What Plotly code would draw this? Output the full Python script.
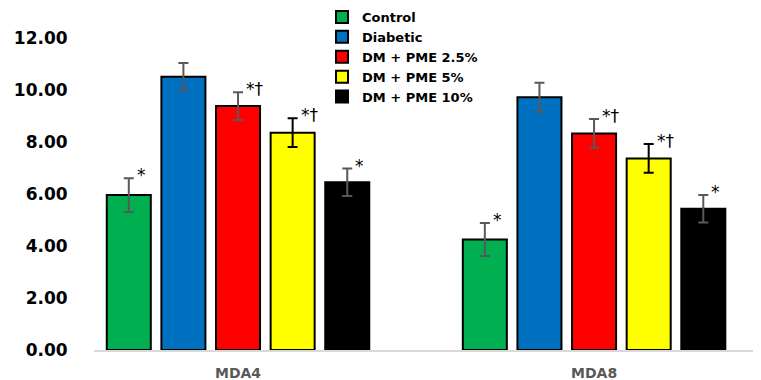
import plotly.graph_objects as go

categories = ["MDA4", "MDA8"]
series = ["Control", "Diabetic", "DM + PME 2.5%", "DM + PME 5%", "DM + PME 10%"]
values = {
    "Control": [5.96, 4.25],
    "Diabetic": [10.51, 9.72],
    "DM + PME 2.5%": [9.38, 8.33],
    "DM + PME 5%": [8.36, 7.37],
    "DM + PME 10%": [6.45, 5.43],
}
errors = {
    "Control": [0.65, 0.63],
    "Diabetic": [0.53, 0.56],
    "DM + PME 2.5%": [0.53, 0.55],
    "DM + PME 5%": [0.55, 0.55],
    "DM + PME 10%": [0.53, 0.53],
}
marks = {
    "Control": ["*", "*"],
    "Diabetic": ["", ""],
    "DM + PME 2.5%": ["*†", "*†"],
    "DM + PME 5%": ["*†", "*†"],
    "DM + PME 10%": ["*", "*"],
}
y_ticks = [0, 2, 4, 6, 8, 10, 12]

colors = ["#00B050", "#0070C0", "#FF0000", "#FFFF00", "#000000"]
err_colors = ["#595959", "#595959", "#595959", "#000000", "#595959"]

BARGAP = 0.233
BARGROUPGAP = 0.194

fig = go.Figure()
for k, s in enumerate(series):
    fig.add_trace(go.Bar(
        name=s, x=categories, y=values[s],
        marker=dict(color=colors[k], line=dict(color="#000000", width=2)),
        error_y=dict(type="data", array=errors[s], color=err_colors[k],
                     thickness=2, width=5),
    ))

# significance marks placed beside each bar, computed from group layout
gw = 1 - BARGAP
slot = gw / len(series)
ann = []
for k, s in enumerate(series):
    for i, c in enumerate(categories):
        t = marks[s][i]
        if not t:
            continue
        xc = i - gw / 2 + (k + 0.5) * slot
        ann.append(dict(x=xc, y=values[s][i] + errors[s][i], xref="x", yref="y",
                        text=t, showarrow=False, xanchor="left", yanchor="middle",
                        xshift=6, yshift=3,
                        font=dict(family="DejaVu Sans", size=17, color="#000000")))

# the page body adds an 8px offset; margins compensate for it
fig.update_layout(
    width=761, height=380,
    margin=dict(l=86, r=14, t=17, b=38, autoexpand=False),
    paper_bgcolor="white", plot_bgcolor="white",
    barmode="group", bargap=BARGAP, bargroupgap=BARGROUPGAP,
    annotations=ann,
    showlegend=True,
    legend=dict(
        xref="paper", yref="paper", x=(314 - 86) / 661, y=1.0708,
        xanchor="left", yanchor="top",
        font=dict(family="DejaVu Sans", size=13, color="#000000", weight="bold"),
        bgcolor="rgba(0,0,0,0)", itemwidth=30,
    ),
    xaxis=dict(
        type="category", range=[-0.4045, 1.452],
        showline=True, linecolor="#D9D9D9", linewidth=2,
        ticks="outside", ticklen=9, tickcolor="rgba(0,0,0,0)",
        tickfont=dict(family="DejaVu Sans", size=14, color="#595959", weight="bold"),
        showgrid=False, zeroline=False,
    ),
    yaxis=dict(
        range=[0, 12.5], tickvals=y_ticks,
        ticktext=[f"{v:.2f}" for v in y_ticks],
        showline=False, showgrid=False, zeroline=False,
        ticks="outside", ticklen=22, tickcolor="rgba(0,0,0,0)",
        tickfont=dict(family="DejaVu Sans", size=17, color="#000000", weight="bold"),
    ),
)

fig.write_html("out.html")
